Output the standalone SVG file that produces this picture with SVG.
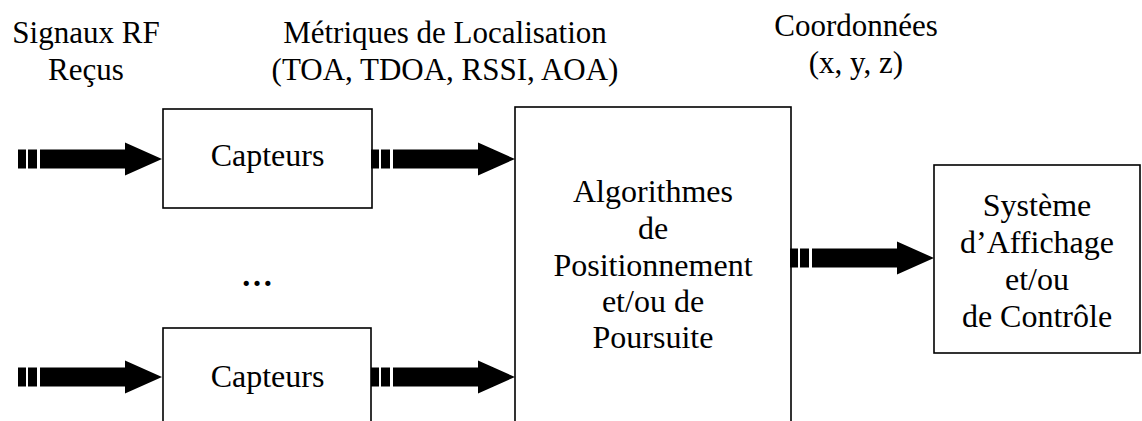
<svg xmlns="http://www.w3.org/2000/svg" width="1142" height="421" viewBox="0 0 1142 421">
<style>
text { font-family: "Liberation Serif", "Times New Roman", serif; font-size: 32px; fill: #000; text-anchor: middle; }
.lbl { font-size: 31px; }
.box { fill: #fff; stroke: #000; stroke-width: 1.6; }
</style>
<defs>
<path id="arrow" d="M-144,-9.5 H-136 V9.5 H-144 Z M-134,-9.5 H-125 V9.5 H-134 Z M-122,-9.5 H-37 V-16.5 L0,0 L-37,16.5 V9.5 H-122 Z" fill="#000"/>
</defs>
<rect width="1142" height="421" fill="#fff"/>
<g id="labels">
<text class="lbl" x="86" y="43">Signaux RF</text>
<text class="lbl" x="86" y="80">Reçus</text>
<text class="lbl" x="445" y="43">Métriques de Localisation</text>
<text class="lbl" x="445" y="80">(TOA, TDOA, RSSI, AOA)</text>
<text class="lbl" x="856" y="36">Coordonnées</text>
<text class="lbl" x="856" y="73">(x, y, z)</text>
<text x="257" y="286" font-weight="bold">…</text>
</g>
<g id="capteurs1">
<rect class="box" x="163" y="109" width="209" height="99"/>
<text x="267.5" y="166">Capteurs</text>
</g>
<g id="capteurs2">
<rect class="box" x="163" y="328" width="208" height="110"/>
<text x="267.5" y="387">Capteurs</text>
</g>
<g id="algorithmes">
<rect class="box" x="515" y="107" width="276" height="330"/>
<text x="653" y="202">Algorithmes</text>
<text x="653" y="239">de</text>
<text x="653" y="276">Positionnement</text>
<text x="653" y="312">et/ou de</text>
<text x="653" y="348">Poursuite</text>
</g>
<g id="affichage">
<rect class="box" x="934" y="165" width="206" height="188"/>
<text x="1037" y="216">Système</text>
<text x="1037" y="253">d’Affichage</text>
<text x="1037" y="290">et/ou</text>
<text x="1037" y="327">de Contrôle</text>
</g>
<g id="connectors">
<use href="#arrow" transform="translate(162,159)"/>
<use href="#arrow" transform="translate(515,159)"/>
<use href="#arrow" transform="translate(934,258)"/>
<use href="#arrow" transform="translate(162,377)"/>
<use href="#arrow" transform="translate(515,377)"/>
</g>
</svg>
